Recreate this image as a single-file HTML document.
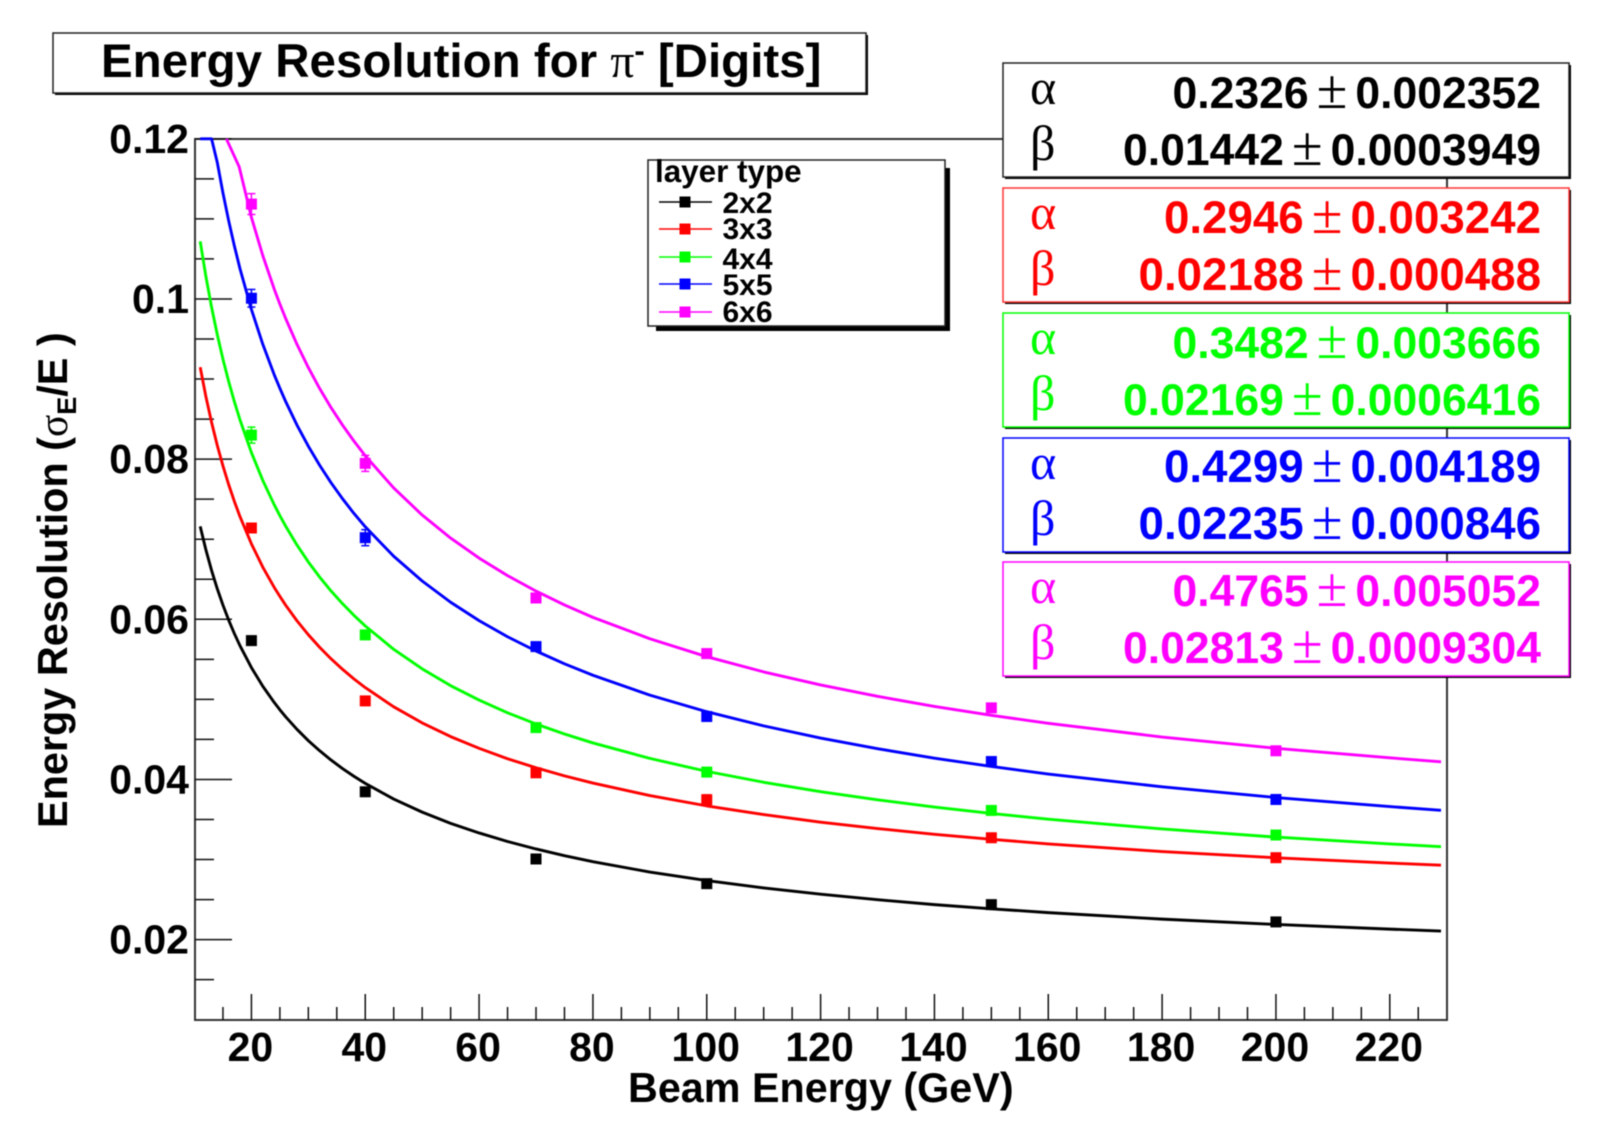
<!DOCTYPE html>
<html lang="en">
<head>
<meta charset="utf-8">
<title>Energy Resolution for pi- [Digits]</title>
<style>
html,body{margin:0;padding:0;background:#fff;}
svg{display:block;filter:blur(0.45px);}
text{font-family:"Liberation Sans",sans-serif;font-weight:bold;fill:#000;}
.sym{font-family:"Liberation Serif",serif;font-weight:normal;}
.pm{font-size:56px;}
.stat{font-size:44.5px;text-anchor:end;}
.wide{font-size:45.7px;}
.greek{font-family:"Liberation Serif",serif;font-weight:normal;font-size:50px;}
.leg{font-size:30px;}
.tick{font-size:41px;}
</style>
</head>
<body>
<svg id="chart" xmlns="http://www.w3.org/2000/svg" width="1611" height="1142" viewBox="0 0 1611 1142">
  <rect x="0" y="0" width="1611" height="1142" fill="#fff"/>

  <rect x="195" y="139" width="1252" height="881" fill="none" stroke="#333" stroke-width="2"/>
  <g id="axes"></g>
  <g id="curves"></g>
  <g id="points"></g>

  <g>
    <rect x="55" y="35" width="813" height="60" fill="#000"/>
    <rect x="53" y="33" width="813" height="60" fill="#fff" stroke="#222" stroke-width="1.5"/>
    <text x="101" y="77" font-size="47.5">Energy Resolution for <tspan class="sym">π</tspan><tspan font-size="31" dy="-16">-</tspan><tspan dy="16"> [Digits]</tspan></text>
  </g>

  <text x="628" y="1102" font-size="41.3">Beam Energy (GeV)</text>
  <text transform="translate(67,828) rotate(-90)" font-size="41.4">Energy Resolution (<tspan class="sym">σ</tspan><tspan font-size="27" dy="9">E</tspan><tspan dy="-9">/E )</tspan></text>

  <g>
    <rect x="656" y="168" width="294" height="163" fill="#000"/>
    <rect x="648" y="160" width="297" height="166" fill="#fff" stroke="#222" stroke-width="1.5"/>
    <text x="655" y="182" font-size="31.4">layer type</text>
    <g>
      <line x1="659" x2="712" y1="202" y2="202" stroke="#000" stroke-width="1.5"/>
      <rect x="679.5" y="196.5" width="11" height="11" fill="#000"/>
      <text x="722.5" y="213" class="leg">2x2</text>
    </g>
    <g>
      <line x1="659" x2="712" y1="229" y2="229" stroke="#f00" stroke-width="1.5"/>
      <rect x="679.5" y="223.5" width="11" height="11" fill="#f00"/>
      <text x="722.5" y="239" class="leg">3x3</text>
    </g>
    <g>
      <line x1="659" x2="712" y1="257" y2="257" stroke="#0f0" stroke-width="1.5"/>
      <rect x="679.5" y="251.5" width="11" height="11" fill="#0f0"/>
      <text x="722.5" y="269" class="leg">4x4</text>
    </g>
    <g>
      <line x1="659" x2="712" y1="284" y2="284" stroke="#00f" stroke-width="1.5"/>
      <rect x="679.5" y="278.5" width="11" height="11" fill="#00f"/>
      <text x="722.5" y="295" class="leg">5x5</text>
    </g>
    <g>
      <line x1="659" x2="712" y1="312" y2="312" stroke="#f0f" stroke-width="1.5"/>
      <rect x="679.5" y="306.5" width="11" height="11" fill="#f0f"/>
      <text x="722.5" y="322" class="leg">6x6</text>
    </g>
  </g>

  <g>
    <rect x="1005" y="65" width="566" height="114" fill="#000"/>
    <rect x="1003" y="63" width="566" height="114" fill="#fff" stroke="#222" stroke-width="1.5"/>
    <text x="1030" y="104" class="greek" style="fill:#000">α</text>
    <text x="1541" y="108" class="stat" style="fill:#000">0.2326<tspan class="sym pm" dx="8">±</tspan><tspan dx="8">0.002352</tspan></text>
    <text x="1030" y="160" class="greek" style="fill:#000">β</text>
    <text x="1541" y="165" class="stat" style="fill:#000">0.01442<tspan class="sym pm" dx="8">±</tspan><tspan dx="8">0.0003949</tspan></text>
  </g>
  <g>
    <rect x="1005" y="190" width="566" height="114" fill="#000"/>
    <rect x="1003" y="188" width="566" height="114" fill="#fff" stroke="#f33" stroke-width="1.5"/>
    <text x="1030" y="229" class="greek" style="fill:#f00">α</text>
    <text x="1541" y="233" class="stat wide" style="fill:#f00">0.2946<tspan class="sym pm" dx="8">±</tspan><tspan dx="8">0.003242</tspan></text>
    <text x="1030" y="285" class="greek" style="fill:#f00">β</text>
    <text x="1541" y="290" class="stat wide" style="fill:#f00">0.02188<tspan class="sym pm" dx="8">±</tspan><tspan dx="8">0.000488</tspan></text>
  </g>
  <g>
    <rect x="1005" y="315" width="566" height="114" fill="#000"/>
    <rect x="1003" y="313" width="566" height="114" fill="#fff" stroke="#0f0" stroke-width="1.5"/>
    <text x="1030" y="354" class="greek" style="fill:#0f0">α</text>
    <text x="1541" y="358" class="stat" style="fill:#0f0">0.3482<tspan class="sym pm" dx="8">±</tspan><tspan dx="8">0.003666</tspan></text>
    <text x="1030" y="410" class="greek" style="fill:#0f0">β</text>
    <text x="1541" y="415" class="stat" style="fill:#0f0">0.02169<tspan class="sym pm" dx="8">±</tspan><tspan dx="8">0.0006416</tspan></text>
  </g>
  <g>
    <rect x="1005" y="440" width="566" height="114" fill="#000"/>
    <rect x="1003" y="438" width="566" height="114" fill="#fff" stroke="#00f" stroke-width="1.5"/>
    <text x="1030" y="479" class="greek" style="fill:#00f">α</text>
    <text x="1541" y="482" class="stat wide" style="fill:#00f">0.4299<tspan class="sym pm" dx="8">±</tspan><tspan dx="8">0.004189</tspan></text>
    <text x="1030" y="535" class="greek" style="fill:#00f">β</text>
    <text x="1541" y="539" class="stat wide" style="fill:#00f">0.02235<tspan class="sym pm" dx="8">±</tspan><tspan dx="8">0.000846</tspan></text>
  </g>
  <g>
    <rect x="1005" y="564" width="566" height="114" fill="#000"/>
    <rect x="1003" y="562" width="566" height="114" fill="#fff" stroke="#f0f" stroke-width="1.5"/>
    <text x="1030" y="603" class="greek" style="fill:#f0f">α</text>
    <text x="1541" y="606" class="stat" style="fill:#f0f">0.4765<tspan class="sym pm" dx="8">±</tspan><tspan dx="8">0.005052</tspan></text>
    <text x="1030" y="659" class="greek" style="fill:#f0f">β</text>
    <text x="1541" y="663" class="stat" style="fill:#f0f">0.02813<tspan class="sym pm" dx="8">±</tspan><tspan dx="8">0.0009304</tspan></text>
  </g>
</svg>

<script>
// Axis ticks
const xMajorTicks = [20,40,60,80,100,120,140,160,180,200,220];
const xMinorTicks = [15,25,30,35,45,50,55,65,70,75,85,90,95,105,110,115,125,130,135,145,150,155,165,170,175,185,190,195,205,210,215,225];
const yMajorTicks = [0.02,0.04,0.06,0.08,0.1,0.12];
const yMinorTicks = [0.015,0.025,0.03,0.035,0.045,0.05,0.055,0.065,0.07,0.075,0.085,0.09,0.095,0.105,0.11,0.115];
const yTickLabels = ["0.02","0.04","0.06","0.08","0.1","0.12"];

// Series
const seriesNames = ["2x2","3x3","4x4","5x5","6x6"];
const seriesColors = ["#000000","#ff0000","#00ff00","#0000ff","#ff00ff"];

// Measured points
const beamEnergies = [20,40,70,100,150,200];
const resolution2x2 = [0.05734,0.03846,0.03007,0.02699,0.02437,0.02221];
const resolution3x3 = [0.0714,0.04981,0.04083,0.03747,0.03272,0.03023];
const resolution4x4 = [0.0830,0.05805,0.04648,0.04092,0.03613,0.03306];
const resolution5x5 = [0.10009,0.07019,0.05659,0.04786,0.04224,0.0375];
const resolution6x6 = [0.11185,0.07947,0.06266,0.05572,0.04894,0.04358];
const errors2x2 = [0.0003,0.0003,0.0002,0.0002,0.0002,0.0002];
const errors3x3 = [0.0005,0.0003,0.0003,0.0006,0.0002,0.0002];
const errors4x4 = [0.001,0.0004,0.0003,0.0003,0.0002,0.0002];
const errors5x5 = [0.0011,0.001,0.0004,0.0004,0.0003,0.0003];
const errors6x6 = [0.0013,0.001,0.0004,0.0003,0.0003,0.0003];

// Fit curves
const fitEnergies = [11,12,13,14,15,16,17,18,20,22,24,25,26,28,30,32,34,36,38,40,45,50,55,60,65,70,75,80,90,100,110,120,130,140,150,160,180,200,220,229];
const fit2x2 = [0.0716,0.06868,0.0661,0.06381,0.06177,0.05991,0.05822,0.05669,0.05397,0.05164,0.04962,0.0487,0.04784,0.04626,0.04484,0.04358,0.04242,0.04136,0.0404,0.03951,0.03755,0.03592,0.03452,0.03332,0.03225,0.03132,0.03048,0.02973,0.02844,0.02737,0.02646,0.02567,0.02498,0.02437,0.02385,0.02337,0.02256,0.02189,0.02131,0.02107];
const fit3x3 = [0.09148,0.08782,0.08459,0.08172,0.07915,0.07683,0.07473,0.07281,0.06942,0.06651,0.06399,0.06286,0.06178,0.05982,0.05807,0.05649,0.05506,0.05376,0.05256,0.05147,0.04907,0.04706,0.04535,0.04389,0.04259,0.04146,0.04045,0.03955,0.03799,0.0367,0.03561,0.03467,0.03387,0.03315,0.03253,0.03195,0.031,0.03022,0.02956,0.02929];
const fit4x4 = [0.1072,0.10283,0.09897,0.09555,0.09248,0.08971,0.08719,0.08489,0.08082,0.07734,0.07431,0.07294,0.07165,0.06928,0.06716,0.06526,0.06353,0.06195,0.0605,0.05917,0.05625,0.05381,0.05171,0.04991,0.04832,0.04693,0.04568,0.04456,0.04263,0.04101,0.03965,0.03847,0.03746,0.03655,0.03575,0.03504,0.03382,0.0328,0.03195,0.03161];
const fit5x5 = [0.13153,0.1261,0.12131,0.11705,0.11323,0.10978,0.10664,0.10376,0.09869,0.09434,0.09055,0.08884,0.08722,0.08426,0.08161,0.07922,0.07704,0.07506,0.07323,0.07155,0.06787,0.06478,0.06213,0.05983,0.05782,0.05604,0.05444,0.05301,0.05053,0.04846,0.04669,0.04517,0.04384,0.04266,0.04162,0.04068,0.03908,0.03774,0.03661,0.03615];
const fitEnergies6x6 = [15.6,17.85,20,22,24,25,26,28,30,32,34,36,38,40,45,50,55,60,65,70,75,80,90,100,110,120,130,140,150,160,180,200,220,229];
const fit6x6 = [0.12,0.1165,0.1102,0.10541,0.10125,0.09936,0.09759,0.09434,0.09143,0.0888,0.08642,0.08425,0.08226,0.08042,0.0764,0.07302,0.07014,0.06764,0.06545,0.06352,0.06179,0.06024,0.05757,0.05533,0.05343,0.0518,0.05038,0.04912,0.04801,0.04701,0.0453,0.04389,0.0427,0.04221];

const resolutionBySeries = [resolution2x2,resolution3x3,resolution4x4,resolution5x5,resolution6x6];
const errorsBySeries = [errors2x2,errors3x3,errors4x4,errors5x5,errors6x6];
const fitBySeries = [fit2x2,fit3x3,fit4x4,fit5x5,fit6x6];
const fitEnergiesBySeries = [fitEnergies,fitEnergies,fitEnergies,fitEnergies,fitEnergies6x6];

const SVG_NS = "http://www.w3.org/2000/svg";
const xScale = function (e) { return 194.5 + (e - 10) * (1252.2 / 220); };
const yScale = function (v) { return 1019.7 - (Math.min(v, 0.12) - 0.01) * (880.9 / 0.11); };

const axes = document.getElementById("axes");
const curves = document.getElementById("curves");
const points = document.getElementById("points");

function makeLine(x1, y1, x2, y2, color, width) {
  const l = document.createElementNS(SVG_NS, "line");
  l.setAttribute("x1", x1);
  l.setAttribute("y1", y1);
  l.setAttribute("x2", x2);
  l.setAttribute("y2", y2);
  l.setAttribute("stroke", color);
  l.setAttribute("stroke-width", width);
  return l;
}

xMajorTicks.forEach(function (t) {
  const tick = makeLine(xScale(t), 1020, xScale(t), 994, "#111", 1.5);
  
  
  axes.appendChild(tick);
  const label = document.createElementNS(SVG_NS, "text");
  label.setAttribute("x", xScale(t) - 1);
  label.setAttribute("y", 1061);
  label.setAttribute("text-anchor", "middle");
  label.setAttribute("class", "tick");
  label.textContent = String(t);
  
  
  axes.appendChild(label);
});
xMinorTicks.forEach(function (t) {
  const tick = makeLine(xScale(t), 1020, xScale(t), 1007, "#111", 1.5);
  
  
  axes.appendChild(tick);
});
yMajorTicks.forEach(function (t, i) {
  const tick = makeLine(195, yScale(t), 232, yScale(t), "#111", 1.5);
  
  
  axes.appendChild(tick);
  const label = document.createElementNS(SVG_NS, "text");
  label.setAttribute("x", 189);
  label.setAttribute("y", yScale(t) + 14);
  label.setAttribute("text-anchor", "end");
  label.setAttribute("class", "tick");
  label.textContent = yTickLabels[i];
  
  
  axes.appendChild(label);
});
yMinorTicks.forEach(function (t) {
  const tick = makeLine(195, yScale(t), 214, yScale(t), "#111", 1.5);
  
  
  axes.appendChild(tick);
});

seriesNames.forEach(function (name, s) {
  const color = seriesColors[s];
  const energies = fitEnergiesBySeries[s];
  const values = fitBySeries[s];
  const poly = document.createElementNS(SVG_NS, "polyline");
  poly.setAttribute("points", energies.map(function (e, i) {
    return xScale(e).toFixed(2) + "," + yScale(values[i]).toFixed(2);
  }).join(" "));
  poly.setAttribute("fill", "none");
  poly.setAttribute("stroke", color);
  poly.setAttribute("stroke-width", "2.9");
  poly.setAttribute("stroke-linejoin", "round");
  
  
  curves.appendChild(poly);

  const vals = resolutionBySeries[s];
  const errs = errorsBySeries[s];
  beamEnergies.forEach(function (e, i) {
    const px = xScale(e);
    const py = yScale(vals[i]);
    const top = yScale(vals[i] + errs[i]);
    const bottom = yScale(vals[i] - errs[i]);
    const bar = makeLine(px, top, px, bottom, color, 1.5);
    
    
    points.appendChild(bar);
    const capTop = makeLine(px - 4, top, px + 4, top, color, 1.5);
    
    
    points.appendChild(capTop);
    const capBottom = makeLine(px - 4, bottom, px + 4, bottom, color, 1.5);
    
    
    points.appendChild(capBottom);
    const m = document.createElementNS(SVG_NS, "rect");
    m.setAttribute("x", px - 5.5);
    m.setAttribute("y", py - 5.5);
    m.setAttribute("width", 11);
    m.setAttribute("height", 11);
    m.setAttribute("fill", color);
    
    
    points.appendChild(m);
  });
});
</script>
</body>
</html>
